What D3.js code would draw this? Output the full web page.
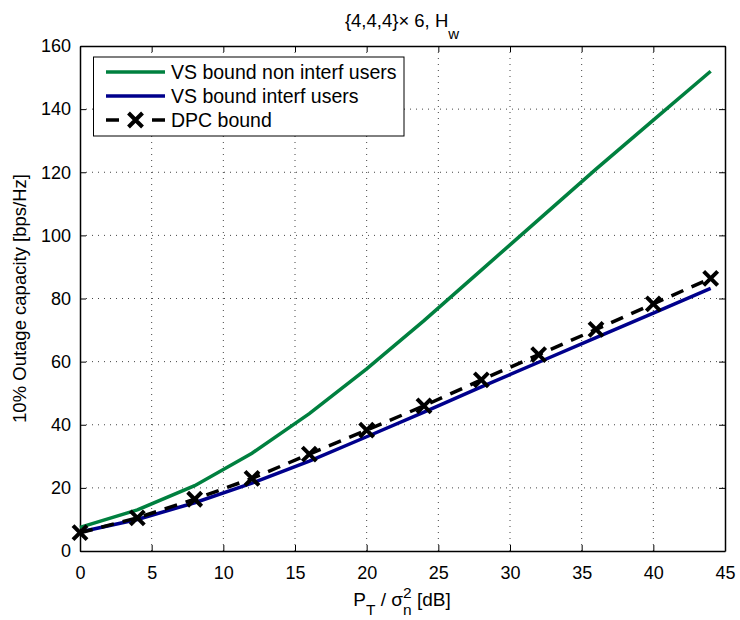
<!DOCTYPE html>
<html>
<head>
<meta charset="utf-8">
<script src="https://cdn.jsdelivr.net/npm/d3@7"></script>
<style>
  body { margin: 0; background: #fff; }
  svg { display: block; font-family: "Liberation Sans", Arial, Helvetica, sans-serif; }
</style>
</head>
<body>
<svg id="chart" width="740" height="620"></svg>
<script>
// ---- data ----
const snr = [0, 4, 8, 12, 16, 20, 24, 28, 32, 36, 40, 44];
const vsNonInterf = [7.5, 13, 20.7, 31, 43.5, 57.7, 73, 89, 105, 121, 136.5, 152];
const vsInterf = [6, 10, 15.3, 21.5, 28.5, 36.2, 44, 52, 59.8, 67.6, 75.4, 83.2];
const dpc = [5.8, 10.5, 16.4, 23, 30.7, 38.3, 46, 54.2, 62.2, 70.2, 78.3, 86.4];
const xTicks = [0, 5, 10, 15, 20, 25, 30, 35, 40, 45];
const yTicks = [0, 20, 40, 60, 80, 100, 120, 140, 160];
const seriesNames = ["VS bound non interf users", "VS bound interf users", "DPC bound"];
const seriesColors = ["#00803f", "#00008c", "#000000"];

// ---- layout ----
const svg = d3.select("#chart");
const L = 80, R = 725, T = 46, B = 551;
const x = d3.scaleLinear().domain([0, 45]).range([L, R]);
const y = d3.scaleLinear().domain([0, 160]).range([B, T]);

// grid
const grid = svg.append("g");
grid.selectAll(".gx").data(xTicks.slice(1, -1)).join("line")
  .attr("x1", d => x(d)).attr("x2", d => x(d)).attr("y1", T).attr("y2", B)
  .attr("stroke", "#444").attr("stroke-width", 1).attr("stroke-dasharray", "1,5");
grid.selectAll(".gy").data(yTicks.slice(1, -1)).join("line")
  .attr("y1", d => y(d)).attr("y2", d => y(d)).attr("x1", L).attr("x2", R)
  .attr("stroke", "#444").attr("stroke-width", 1).attr("stroke-dasharray", "1,5");

// axes (ticks inward on all four sides)
const fs = 18;
const axB = svg.append("g").attr("transform", `translate(0,${B})`)
  .call(d3.axisBottom(x).tickValues(xTicks).tickSizeInner(-6).tickSizeOuter(0).tickPadding(15));
const axT = svg.append("g").attr("transform", `translate(0,${T})`)
  .call(d3.axisTop(x).tickValues(xTicks).tickSizeInner(-6).tickSizeOuter(0).tickFormat(""));
const axL = svg.append("g").attr("transform", `translate(${L},0)`)
  .call(d3.axisLeft(y).tickValues(yTicks).tickSizeInner(-6).tickSizeOuter(0).tickPadding(9));
const axR = svg.append("g").attr("transform", `translate(${R},0)`)
  .call(d3.axisRight(y).tickValues(yTicks).tickSizeInner(-6).tickSizeOuter(0).tickFormat(""));
[axB, axT, axL, axR].forEach(a => {
  a.select(".domain").attr("stroke", "#000").attr("stroke-width", 1.5);
  a.selectAll(".tick line").attr("stroke", "#000").attr("stroke-width", 1);
  a.selectAll("text").attr("font-size", fs).attr("fill", "#000")
    .attr("font-family", "Liberation Sans, Arial, sans-serif");
});
axB.selectAll("text").attr("dy", "0.71em");

// lines
const line = d3.line().x((d, i) => x(snr[i])).y(d => y(d));
const plot = svg.append("g");
plot.append("path").datum(vsNonInterf).attr("d", line)
  .attr("fill", "none").attr("stroke", seriesColors[0]).attr("stroke-width", 3.5);
plot.append("path").datum(vsInterf).attr("d", line)
  .attr("fill", "none").attr("stroke", seriesColors[1]).attr("stroke-width", 3.5);
plot.append("path").datum(dpc).attr("d", line)
  .attr("fill", "none").attr("stroke", seriesColors[2]).attr("stroke-width", 3.5)
  .attr("stroke-dasharray", "13,9");

function cross(g, cx, cy, s) {
  g.append("path")
    .attr("d", `M${cx - s},${cy - s}L${cx + s},${cy + s}M${cx - s},${cy + s}L${cx + s},${cy - s}`)
    .attr("stroke", "#000").attr("stroke-width", 4).attr("fill", "none");
}
dpc.forEach((v, i) => cross(plot, x(snr[i]), y(v), 7));

// legend
const lg = svg.append("g");
lg.append("rect").attr("x", 93.5).attr("y", 57).attr("width", 310.5).attr("height", 79)
  .attr("fill", "#fff").attr("stroke", "#000").attr("stroke-width", 1);
const rowY = [72, 96, 120];
seriesNames.forEach((name, i) => {
  if (i < 2) {
    lg.append("line").attr("x1", 106).attr("x2", 165).attr("y1", rowY[i]).attr("y2", rowY[i])
      .attr("stroke", seriesColors[i]).attr("stroke-width", 3.5);
  } else {
    lg.append("line").attr("x1", 106).attr("x2", 165).attr("y1", rowY[i]).attr("y2", rowY[i])
      .attr("stroke", "#000").attr("stroke-width", 3.5).attr("stroke-dasharray", "13,33");
    cross(lg, 135.5, rowY[i], 7);
  }
  lg.append("text").attr("x", 171).attr("y", rowY[i]).attr("dy", "0.35em")
    .attr("font-size", 19.5).text(name);
});

// title
const title = svg.append("text").attr("x", 402).attr("y", 27).attr("text-anchor", "middle")
  .attr("font-size", 18.5);
title.append("tspan").text("{4,4,4}\u00D7 6, H");
title.append("tspan").attr("dy", 12).attr("font-size", 15).text("w");

// x label
const xl = svg.append("text").attr("x", 402).attr("y", 606).attr("text-anchor", "middle")
  .attr("font-size", 19);
xl.append("tspan").text("P");
xl.append("tspan").attr("dy", 9).attr("font-size", 15.5).text("T");
xl.append("tspan").attr("dy", -9).text(" / \u03C3");
xl.append("tspan").attr("dy", -8).attr("font-size", 15.5).text("2");
xl.append("tspan").attr("dx", -8.6).attr("dy", 17).attr("font-size", 15.5).text("n");
xl.append("tspan").attr("dy", -9).text(" [dB]");

// y label
svg.append("text").attr("transform", `translate(26,${(T + B) / 2}) rotate(-90)`)
  .attr("text-anchor", "middle").attr("font-size", 18.5)
  .text("10% Outage capacity [bps/Hz]");
</script>
</body>
</html>
